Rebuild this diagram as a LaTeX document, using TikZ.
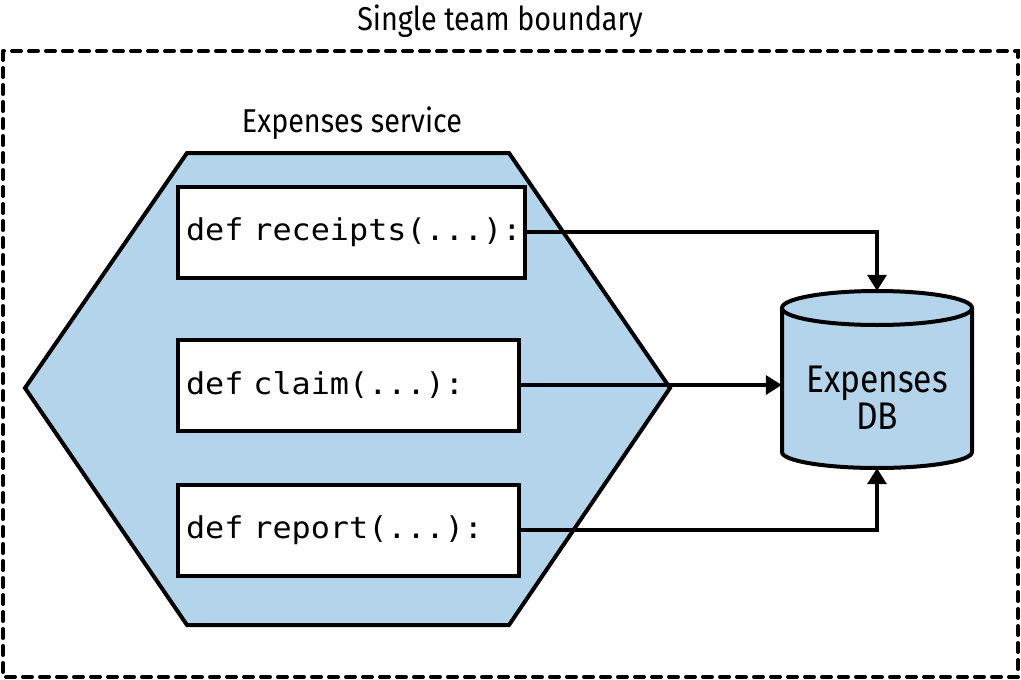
\documentclass[tikz,border=0pt]{standalone}
\usepackage{fontspec}
\setmainfont{Fira Sans}[FakeStretch=0.87]
\newfontfamily\codefont{DejaVu Sans Mono}[FakeStretch=1.06]
\usetikzlibrary{arrows.meta}
\usetikzlibrary{positioning}

\definecolor{svcblue}{RGB}{179,212,234}

\tikzset{
  fnbox/.style={draw, line width=4pt, fill=white, anchor=west, minimum height=91pt,
    inner xsep=8pt, align=left, font=\codefont\fontsize{30}{36}\selectfont},
  flow/.style={line width=3.5pt, -{Triangle[length=16pt,width=19pt]}},
  lbl/.style={font=\fontsize{33}{39}\selectfont},
}

\begin{document}
\begin{tikzpicture}[x=1pt,y=-1pt]
\useasboundingbox (0,0) rectangle (1021,680);

%%% Team boundary
\draw[line width=4pt, dash pattern=on 9pt off 8pt, line cap=round] (3,51) rectangle (1018,677);
\node[lbl] (team) at (500,21) {Single team boundary};

%%% Expenses service
\draw[line width=4pt, fill=svcblue, line join=miter]
  (187,153) -- (509,153) -- (670,388) -- (509,625) -- (187,625) -- (25,388) -- cycle;
\node[lbl] (svc) at (352,123) {Expenses service};

% functions
\node[fnbox, text width=331pt] (rec) at (176,232) {\mbox{def receipts(...):}};
\node[fnbox, text width=325pt] (claim) at (176,385) {\mbox{def claim(...):}};
\node[fnbox, text width=325pt] (rep) at (176,530) {\mbox{def report(...):}};

%%% Expenses DB
\draw[line width=4pt, fill=svcblue] (782,308) -- (782,452)
  arc[start angle=180, end angle=0, x radius=95, y radius=16] -- (972,308);
\draw[line width=4pt, fill=svcblue] (877,308) ellipse[x radius=95, y radius=17];
\node[minimum width=190pt, minimum height=177pt, inner sep=0pt] (db) at (877,379.5) {};
\node[align=center, font=\fontsize{38.5}{37}\selectfont] (dbtext) at (877,398) {Expenses\\DB};

% calls
\draw[flow] (rec.east) -| (db.north);
\draw[flow] (claim.east) -- (claim.east -| db.west);
\draw[flow] (rep.east) -| (db.south);

\end{tikzpicture}
\end{document}
